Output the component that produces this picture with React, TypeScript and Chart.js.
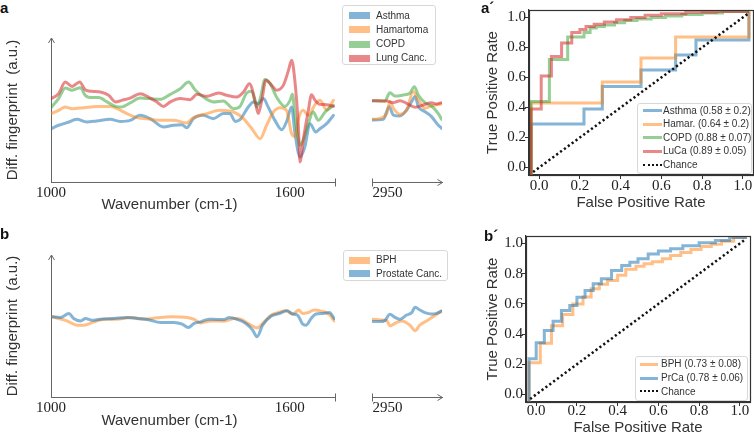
import React, { useEffect, useRef } from 'react';
import { Chart, registerables } from 'chart.js';

Chart.register(...registerables);

type Pt = [number, number];

// ---------------- Panel a: differential fingerprints ----------------
const aSeriesLabels = ['Asthma', 'Hamartoma', 'COPD', 'Lung Canc.'];

const asthmaLow: Pt[] = [[1000, 37.0], [1019, 39.4], [1040, 41.2], [1065, 43.5], [1090, 41.7], [1115, 42.4], [1149, 43.5], [1174, 42.1], [1199, 42.8], [1224, 46.3], [1249, 44.0], [1283, 38.2], [1308, 39.4], [1329, 39.8], [1341, 37.7], [1358, 44.0], [1383, 46.3], [1408, 44.0], [1433, 47.5], [1450, 47.5], [1463, 42.1], [1475, 43.3], [1496, 52.1], [1509, 55.6], [1521, 54.4], [1534, 57.9], [1546, 52.1], [1563, 42.8], [1580, 36.3], [1592, 41.7], [1605, 52.1], [1613, 34.7], [1626, 17.4], [1638, 24.3], [1651, 40.5], [1666, 34.7], [1676, 37.0], [1693, 40.5], [1710, 46.3]];
const hamartomaLow: Pt[] = [[1000, 47.5], [1019, 49.8], [1036, 52.1], [1053, 50.9], [1082, 51.6], [1115, 52.5], [1149, 52.5], [1166, 50.9], [1191, 47.5], [1216, 44.7], [1241, 44.0], [1274, 42.8], [1308, 42.8], [1341, 41.0], [1358, 44.7], [1392, 47.5], [1425, 49.8], [1459, 48.6], [1484, 44.0], [1505, 37.0], [1526, 30.1], [1542, 39.4], [1559, 48.6], [1576, 51.6], [1592, 49.8], [1605, 33.6], [1613, 31.7], [1622, 44.0], [1634, 49.8], [1647, 46.3], [1664, 53.9], [1676, 56.7], [1693, 50.2], [1710, 56.7]];
const copdLow: Pt[] = [[1000, 51.6], [1019, 57.9], [1036, 65.3], [1053, 63.7], [1074, 65.5], [1086, 60.2], [1103, 58.6], [1120, 58.6], [1141, 55.6], [1162, 52.5], [1178, 52.1], [1199, 54.9], [1224, 58.3], [1249, 57.9], [1274, 57.4], [1300, 60.9], [1325, 64.8], [1346, 69.4], [1362, 64.1], [1383, 59.0], [1408, 55.6], [1433, 56.3], [1459, 50.9], [1475, 52.5], [1492, 61.8], [1505, 63.0], [1517, 52.1], [1526, 57.9], [1538, 71.1], [1551, 68.3], [1567, 59.0], [1588, 52.5], [1601, 56.7], [1607, 60.9], [1613, 47.5], [1626, 25.5], [1634, 28.9], [1647, 40.5], [1659, 48.6], [1672, 42.8], [1689, 48.6], [1710, 53.2]];
const lungLow: Pt[] = [[1000, 57.9], [1019, 61.3], [1036, 69.4], [1053, 66.4], [1072, 69.4], [1086, 64.1], [1103, 63.0], [1124, 62.5], [1145, 60.2], [1162, 55.6], [1178, 56.7], [1199, 58.3], [1224, 61.3], [1245, 59.0], [1266, 55.6], [1283, 52.5], [1300, 55.6], [1325, 57.9], [1350, 57.2], [1367, 60.9], [1392, 59.5], [1421, 61.8], [1442, 60.2], [1467, 59.0], [1484, 62.5], [1499, 68.3], [1513, 56.7], [1521, 47.5], [1530, 56.7], [1540, 70.6], [1555, 67.1], [1567, 63.7], [1584, 67.1], [1597, 77.5], [1605, 84.5], [1613, 70.6], [1622, 38.2], [1626, 13.9], [1634, 28.9], [1647, 49.8], [1655, 60.6], [1664, 56.7], [1676, 53.9], [1693, 53.7], [1710, 52.5]];

const asthmaHigh: Pt[] = [[2910, 43.1], [2939, 43.5], [2954, 52.3], [2965, 46.5], [2982, 45.8], [2999, 50.0], [3012, 55.8], [3021, 59.3], [3029, 52.3], [3046, 48.9], [3063, 45.4], [3080, 39.6], [3089, 37.3]];
const hamartomaHigh: Pt[] = [[2910, 43.5], [2930, 44.2], [2948, 47.7], [2956, 55.8], [2965, 51.2], [2982, 47.0], [2999, 50.0], [3016, 62.7], [3029, 57.0], [3046, 51.2], [3063, 52.8], [3080, 53.9], [3089, 54.2]];
const copdHigh: Pt[] = [[2910, 56.5], [2943, 56.3], [2956, 62.0], [2969, 59.7], [2990, 60.4], [3007, 61.6], [3019, 66.2], [3029, 60.4], [3046, 55.1], [3063, 52.8], [3080, 47.7], [3089, 43.5]];
const lungHigh: Pt[] = [[2910, 56.5], [2948, 56.3], [2965, 55.1], [2982, 56.5], [2999, 54.6], [3021, 51.9], [3042, 53.5], [3063, 55.1], [3076, 54.2], [3089, 55.1]];

// ---------------- Panel b: differential fingerprints ----------------
const bSeriesLabels = ['BPH', 'Prostate Canc.'];

const bphLow: Pt[] = [[1000, 56.9], [1019, 55.3], [1040, 53.6], [1066, 50.6], [1082, 50.6], [1108, 52.9], [1133, 54.8], [1166, 54.8], [1200, 56.0], [1234, 54.8], [1267, 55.8], [1301, 56.5], [1343, 56.0], [1360, 54.6], [1376, 52.2], [1402, 53.6], [1435, 53.4], [1461, 55.3], [1477, 54.8], [1498, 51.3], [1518, 48.7], [1536, 52.9], [1553, 57.6], [1570, 59.3], [1591, 60.7], [1608, 58.4], [1623, 61.2], [1633, 58.8], [1645, 59.3], [1662, 61.2], [1679, 60.5], [1700, 58.1], [1712, 53.6]];
const prostateLow: Pt[] = [[1000, 56.5], [1024, 56.0], [1045, 58.8], [1057, 55.3], [1074, 53.6], [1087, 55.3], [1103, 54.1], [1124, 54.8], [1158, 55.3], [1192, 56.0], [1217, 55.3], [1242, 54.6], [1276, 52.5], [1309, 52.5], [1330, 51.3], [1345, 48.9], [1360, 51.8], [1376, 52.9], [1397, 54.8], [1418, 54.6], [1435, 54.6], [1448, 56.0], [1469, 54.6], [1490, 51.8], [1507, 47.1], [1518, 42.4], [1532, 50.6], [1553, 56.9], [1574, 58.8], [1593, 60.7], [1608, 58.4], [1620, 57.6], [1633, 51.3], [1641, 50.6], [1654, 55.3], [1666, 58.4], [1683, 58.8], [1700, 59.5], [1712, 55.3]];

const bphHigh: Pt[] = [[2910, 54.7], [2934, 54.2], [2948, 53.8], [2956, 50.0], [2969, 51.9], [2986, 53.5], [3007, 50.7], [3021, 46.7], [3033, 50.7], [3050, 53.5], [3067, 56.6], [3089, 60.5]];
const prostateHigh: Pt[] = [[2910, 53.1], [2930, 53.1], [2943, 53.8], [2956, 58.2], [2969, 56.1], [2982, 54.7], [2999, 57.7], [3012, 59.4], [3021, 63.2], [3033, 61.3], [3046, 59.4], [3063, 58.5], [3076, 58.9], [3089, 60.5]];

// wavenumber windows and tick labels
const lowRange: Pt = [1000, 1714];
const highRange: Pt = [2910, 3090];
const lowTicks = [1000, 1600];
const highTicks = [2950];

// ---------------- ROC curves (fpr, tpr step points) ----------------
const rocALabels = ['Asthma (0.58 ± 0.2)', 'Hamar. (0.64 ± 0.2)', 'COPD (0.88 ± 0.07)', 'LuCa (0.89 ± 0.05)'];
const rocBLabels = ['BPH (0.73 ± 0.08)', 'PrCa (0.78 ± 0.06)'];
const chanceLabel = 'Chance';

const asthmaRoc: Pt[] = [[-0.04, -0.05], [0.22, 0.29], [0.31, 0.39], [0.5, 0.54], [0.67, 0.65], [0.77, 0.75], [1.03, 0.85], [1.03, 1.04]];
const hamarRoc: Pt[] = [[-0.04, -0.05], [0.31, 0.43], [0.5, 0.57], [0.67, 0.73], [1.03, 0.87], [1.03, 1.04]];
const copdRoc: Pt[] = [[-0.04, -0.05], [0.05, 0.44], [0.14, 0.72], [0.22, 0.87], [0.25, 0.9], [0.28, 0.93], [0.32, 0.94], [0.37, 0.95], [0.42, 0.965], [0.48, 0.98], [0.55, 0.99], [0.62, 1.0], [0.7, 1.01], [0.8, 1.02], [0.9, 1.03], [1.03, 1.04]];
const lucaRoc: Pt[] = [[-0.04, -0.05], [0.01, 0.39], [0.06, 0.61], [0.11, 0.74], [0.16, 0.83], [0.2, 0.9], [0.23, 0.92], [0.27, 0.94], [0.32, 0.955], [0.38, 0.97], [0.45, 0.985], [0.52, 1.0], [0.6, 1.015], [0.72, 1.025], [0.87, 1.035], [1.03, 1.04]];
const bphRoc: Pt[] = [[-0.035, -0.05], [0.02, 0.21], [0.075, 0.34], [0.13, 0.455], [0.18, 0.53], [0.23, 0.6], [0.27, 0.645], [0.31, 0.7], [0.35, 0.73], [0.4, 0.755], [0.44, 0.79], [0.49, 0.83], [0.53, 0.85], [0.57, 0.866], [0.62, 0.88], [0.66, 0.9], [0.71, 0.92], [0.76, 0.94], [0.81, 0.96], [0.86, 0.98], [0.91, 0.995], [0.97, 1.015], [1.035, 1.04]];
const prcaRoc: Pt[] = [[-0.035, -0.05], [0.0, 0.236], [0.04, 0.342], [0.083, 0.424], [0.124, 0.485], [0.165, 0.556], [0.2, 0.589], [0.24, 0.644], [0.28, 0.689], [0.32, 0.733], [0.37, 0.766], [0.42, 0.821], [0.46, 0.854], [0.5, 0.876], [0.55, 0.9], [0.6, 0.93], [0.66, 0.95], [0.72, 0.965], [0.8, 0.985], [0.88, 1.005], [0.95, 1.02], [1.035, 1.04]];
const chanceRoc: Pt[] = [[-0.03, -0.03], [1.03, 1.03]];
const rocRange: Pt = [-0.05, 1.05];
const rocTicks = [0, 0.2, 0.4, 0.6, 0.8, 1.0];

// ---------------- styles ----------------
const SANS = '"Liberation Sans", Arial, sans-serif';
const SERIF = '"Liberation Serif", "Times New Roman", serif';
const TEXT = '#333';
const TICK_TEXT = '#222';
const AXIS = '#666';
const SPINE = '#333';
const BLUE = 'rgba(31,119,180,0.55)';
const ORANGE = 'rgba(255,127,14,0.5)';
const GREEN = 'rgba(44,160,44,0.5)';
const RED = 'rgba(214,39,40,0.55)';
const CHANCE = '#111';

Chart.defaults.font.family = SANS;

const toXY = (pts: Pt[]) => pts.map(([x, y]) => ({ x, y }));

type Series = { label: string; color: string; data: Pt[] };

function spectrumDecor(side: 'low' | 'high') {
  return {
    id: 'spectrumDecor',
    afterDraw(chart: any) {
      const { ctx, chartArea: a } = chart;
      ctx.save();
      ctx.strokeStyle = AXIS;
      ctx.lineWidth = 1;
      const by = Math.round(a.bottom) + 0.5;
      const lx = Math.round(a.left) + 0.5;
      const rx = Math.round(a.right) + 0.5;
      ctx.beginPath();
      if (side === 'low') {
        ctx.moveTo(lx - 3, a.top + 5);
        ctx.lineTo(lx, a.top);
        ctx.lineTo(lx + 3, a.top + 5);
        ctx.moveTo(rx, by - 4);
        ctx.lineTo(rx, by + 4);
      } else {
        ctx.moveTo(lx, by - 4);
        ctx.lineTo(lx, by + 4);
        ctx.moveTo(rx - 5, by - 3);
        ctx.lineTo(rx, by);
        ctx.lineTo(rx - 5, by + 3);
      }
      ctx.stroke();
      ctx.restore();
    },
  };
}

function spectrumConfig(series: Series[], range: Pt, ticks: number[], side: 'low' | 'high', padding: any, xHeight: number) {
  return {
    type: 'line',
    data: {
      datasets: series.map((s, i) => ({
        label: s.label,
        data: toXY(s.data),
        borderColor: s.color,
        borderWidth: 3,
        pointRadius: 0,
        fill: false,
        cubicInterpolationMode: 'monotone',
        borderJoinStyle: 'round',
        borderCapStyle: 'round',
        order: series.length - i,
      })),
    },
    options: {
      responsive: false,
      animation: false,
      devicePixelRatio: 1,
      events: [],
      layout: { padding, autoPadding: false },
      plugins: { legend: { display: false }, tooltip: { enabled: false } },
      scales: {
        x: {
          type: 'linear',
          min: range[0],
          max: range[1],
          grid: { display: false, drawTicks: false },
          border: { display: true, color: AXIS, width: 1 },
          ticks: {
            font: { family: SERIF, size: 15 },
            color: TICK_TEXT,
            padding: 2,
            maxRotation: 0,
            autoSkip: false,
            callback: (v: any) => String(v),
          },
          afterBuildTicks: (s: any) => {
            s.ticks = ticks.map((v) => ({ value: v }));
          },
          afterFit: (s: any) => {
            s.height = xHeight;
          },
        },
        y:
          side === 'low'
            ? {
                min: 0,
                max: 100,
                ticks: { display: false },
                grid: { display: false, drawTicks: false },
                border: { display: true, color: AXIS, width: 1 },
                title: {
                  display: true,
                  text: 'Diff. fingerprint  (a.u.)',
                  font: { family: SANS, size: 15 },
                  color: TEXT,
                  padding: { top: 4, bottom: 0 },
                },
                afterFit: (s: any) => {
                  s.width = 51;
                },
              }
            : { min: 0, max: 100, display: false },
      },
    },
    plugins: [spectrumDecor(side)],
  };
}

const rocFrame = {
  id: 'rocFrame',
  afterDraw(chart: any) {
    const { ctx, chartArea: a } = chart;
    ctx.save();
    ctx.strokeStyle = SPINE;
    ctx.lineWidth = 1.2;
    ctx.strokeRect(Math.round(a.left) + 0.5, Math.round(a.top) + 0.5, Math.round(a.right - a.left), Math.round(a.bottom - a.top));
    ctx.restore();
  },
};

function rocConfig(series: Series[], dims: { padding: any; yWidth: number; xHeight: number; xTickPad: number }) {
  const datasets: any[] = series.map((s, i) => ({
    label: s.label,
    data: toXY(s.data),
    borderColor: s.color,
    borderWidth: 3,
    pointRadius: 0,
    fill: false,
    stepped: 'after',
    order: series.length - i,
  }));
  datasets.push({
    label: chanceLabel,
    data: toXY(chanceRoc),
    borderColor: CHANCE,
    borderWidth: 2.5,
    borderDash: [2.2, 2.6],
    pointRadius: 0,
    fill: false,
    order: 0,
  });
  const axis = (title: string, isX: boolean) => ({
    type: 'linear',
    min: rocRange[0],
    max: rocRange[1],
    grid: { display: true, drawOnChartArea: false, drawTicks: true, tickLength: 4, color: SPINE, tickWidth: 1 },
    border: { display: true, color: SPINE, width: 1.2 },
    ticks: {
      font: { family: SERIF, size: 15, lineHeight: 1 },
      color: TICK_TEXT,
      padding: isX ? dims.xTickPad : -1,
      maxRotation: 0,
      autoSkip: false,
      callback: (v: any) => Number(v).toFixed(1),
    },
    afterBuildTicks: (s: any) => {
      s.ticks = rocTicks.map((v) => ({ value: v }));
    },
    title: {
      display: true,
      text: title,
      font: { family: SANS, size: 15 },
      color: TEXT,
      padding: isX ? { top: 0, bottom: 3.5 } : { top: 13.5, bottom: 0 },
    },
    afterFit: (s: any) => {
      if (isX) s.height = dims.xHeight;
      else s.width = dims.yWidth;
    },
  });
  return {
    type: 'line',
    data: { datasets },
    options: {
      responsive: false,
      animation: false,
      devicePixelRatio: 1,
      events: [],
      layout: { padding: dims.padding, autoPadding: false },
      plugins: { legend: { display: false }, tooltip: { enabled: false } },
      scales: {
        x: axis('False Positive Rate', true),
        y: axis('True Positive Rate', false),
      },
    },
    plugins: [rocFrame],
  };
}

type Box = { left: number; top: number; width: number; height: number };

function ChartCanvas({ box, build }: { box: Box; build: () => any }) {
  const ref = useRef<HTMLCanvasElement | null>(null);
  useEffect(() => {
    if (!ref.current) return;
    const chart = new Chart(ref.current, build());
    return () => chart.destroy();
  }, []);
  return (
    <canvas
      ref={ref}
      width={box.width}
      height={box.height}
      style={{ position: 'absolute', left: box.left, top: box.top, width: box.width, height: box.height }}
    />
  );
}

function Legend({
  box,
  items,
  rowStart,
  rowStep,
  kind,
  sampleLeft,
  sampleWidth,
  textLeft,
}: {
  box: Box;
  items: { label: string; color: string; dotted?: boolean }[];
  rowStart: number;
  rowStep: number;
  kind: 'patch' | 'line';
  sampleLeft: number;
  sampleWidth: number;
  textLeft: number;
}) {
  return (
    <div
      style={{
        position: 'absolute',
        left: box.left,
        top: box.top,
        width: box.width,
        height: box.height,
        boxSizing: 'border-box',
        border: '1px solid #d8d8d8',
        borderRadius: 3,
        background: 'rgba(255,255,255,0.85)',
      }}
    >
      {items.map((it, i) => {
        const cy = rowStart + i * rowStep - 1;
        return (
          <React.Fragment key={it.label}>
            {kind === 'patch' ? (
              <div style={{ position: 'absolute', left: sampleLeft, top: cy - 3.5, width: sampleWidth, height: 7, background: it.color }} />
            ) : it.dotted ? (
              <div style={{ position: 'absolute', left: sampleLeft, top: cy - 1.25, width: sampleWidth, height: 0, borderTop: `2.5px dotted ${it.color}` }} />
            ) : (
              <div style={{ position: 'absolute', left: sampleLeft, top: cy - 1.5, width: sampleWidth, height: 3, background: it.color }} />
            )}
            <div
              style={{
                position: 'absolute',
                left: textLeft,
                top: cy - 6,
                height: 12,
                lineHeight: '12px',
                fontSize: 10,
                fontFamily: SANS,
                color: TEXT,
                whiteSpace: 'nowrap',
              }}
            >
              {it.label}
            </div>
          </React.Fragment>
        );
      })}
    </div>
  );
}

function Label({ text, left, top, size, bold, center }: { text: string; left: number; top: number; size: number; bold?: boolean; center?: boolean }) {
  return (
    <div
      style={{
        position: 'absolute',
        left,
        top,
        fontSize: size,
        lineHeight: `${size}px`,
        fontFamily: SANS,
        fontWeight: bold ? 700 : 400,
        color: bold ? '#111' : TEXT,
        whiteSpace: 'nowrap',
        transform: center ? 'translateX(-50%)' : undefined,
      }}
    >
      {text}
    </div>
  );
}

export default function App() {
  const aColors = [BLUE, ORANGE, GREEN, RED];
  const aLow: Series[] = [asthmaLow, hamartomaLow, copdLow, lungLow].map((d, i) => ({ label: aSeriesLabels[i], color: aColors[i], data: d }));
  const aHigh: Series[] = [asthmaHigh, hamartomaHigh, copdHigh, lungHigh].map((d, i) => ({ label: aSeriesLabels[i], color: aColors[i], data: d }));
  const bColors = [ORANGE, BLUE];
  const bLow: Series[] = [bphLow, prostateLow].map((d, i) => ({ label: bSeriesLabels[i], color: bColors[i], data: d }));
  const bHigh: Series[] = [bphHigh, prostateHigh].map((d, i) => ({ label: bSeriesLabels[i], color: bColors[i], data: d }));
  const rocA: Series[] = [asthmaRoc, hamarRoc, copdRoc, lucaRoc].map((d, i) => ({ label: rocALabels[i], color: aColors[i], data: d }));
  const rocB: Series[] = [bphRoc, prcaRoc].map((d, i) => ({ label: rocBLabels[i], color: bColors[i], data: d }));

  return (
    <div style={{ position: 'absolute', left: 0, top: 0, width: 754, height: 434, overflow: 'hidden', background: '#fff' }}>
      <ChartCanvas box={{ left: 0, top: 30, width: 345, height: 170 }} build={() => spectrumConfig(aLow, lowRange, lowTicks, 'low', { left: 0, top: 8, right: 10, bottom: 0 }, 18)} />
      <ChartCanvas box={{ left: 360, top: 30, width: 100, height: 170 }} build={() => spectrumConfig(aHigh, highRange, highTicks, 'high', { left: 12, top: 8, right: 18, bottom: 0 }, 18)} />
      <ChartCanvas box={{ left: 0, top: 247, width: 345, height: 170 }} build={() => spectrumConfig(bLow, lowRange, lowTicks, 'low', { left: 0, top: 8, right: 10, bottom: 0 }, 20)} />
      <ChartCanvas box={{ left: 360, top: 247, width: 100, height: 170 }} build={() => spectrumConfig(bHigh, highRange, highTicks, 'high', { left: 12, top: 8, right: 18, bottom: 0 }, 20)} />
      <ChartCanvas box={{ left: 470, top: 0, width: 284, height: 215 }} build={() => rocConfig(rocA, { padding: { left: 0, top: 10, right: 1, bottom: 0 }, yWidth: 59, xHeight: 40, xTickPad: 0 })} />
      <ChartCanvas box={{ left: 470, top: 220, width: 284, height: 220 }} build={() => rocConfig(rocB, { padding: { left: 0, top: 16, right: 4, bottom: 0 }, yWidth: 56, xHeight: 38, xTickPad: -2 })} />

      <Label text="Wavenumber (cm-1)" left={169.5} top={195.5} size={15} center />
      <Label text="Wavenumber (cm-1)" left={169.5} top={412} size={15} center />

      <Label text="a" left={0} top={0} size={15} bold />
      <Label text="b" left={0} top={225.5} size={15} bold />
      <Label text="a´" left={481} top={0} size={15} bold />
      <Label text="b´" left={484} top={227.5} size={15} bold />

      <Legend
        box={{ left: 342, top: 5, width: 94, height: 60 }}
        items={aLow.map((s) => ({ label: s.label, color: s.color }))}
        rowStart={10.5}
        rowStep={14.3}
        kind="patch"
        sampleLeft={6}
        sampleWidth={21}
        textLeft={33}
      />
      <Legend
        box={{ left: 343, top: 250, width: 105, height: 31 }}
        items={bLow.map((s) => ({ label: s.label, color: s.color }))}
        rowStart={10.3}
        rowStep={13.4}
        kind="patch"
        sampleLeft={5}
        sampleWidth={21}
        textLeft={32}
      />
      <Legend
        box={{ left: 637, top: 103, width: 115, height: 71 }}
        items={[...rocA.map((s) => ({ label: s.label, color: s.color })), { label: chanceLabel, color: CHANCE, dotted: true }]}
        rowStart={7.6}
        rowStep={13.6}
        kind="line"
        sampleLeft={5}
        sampleWidth={19}
        textLeft={25}
      />
      <Legend
        box={{ left: 635, top: 356, width: 113, height: 45 }}
        items={[...rocB.map((s) => ({ label: s.label, color: s.color })), { label: chanceLabel, color: CHANCE, dotted: true }]}
        rowStart={8.3}
        rowStep={13.7}
        kind="line"
        sampleLeft={4}
        sampleWidth={18}
        textLeft={25}
      />
    </div>
  );
}
